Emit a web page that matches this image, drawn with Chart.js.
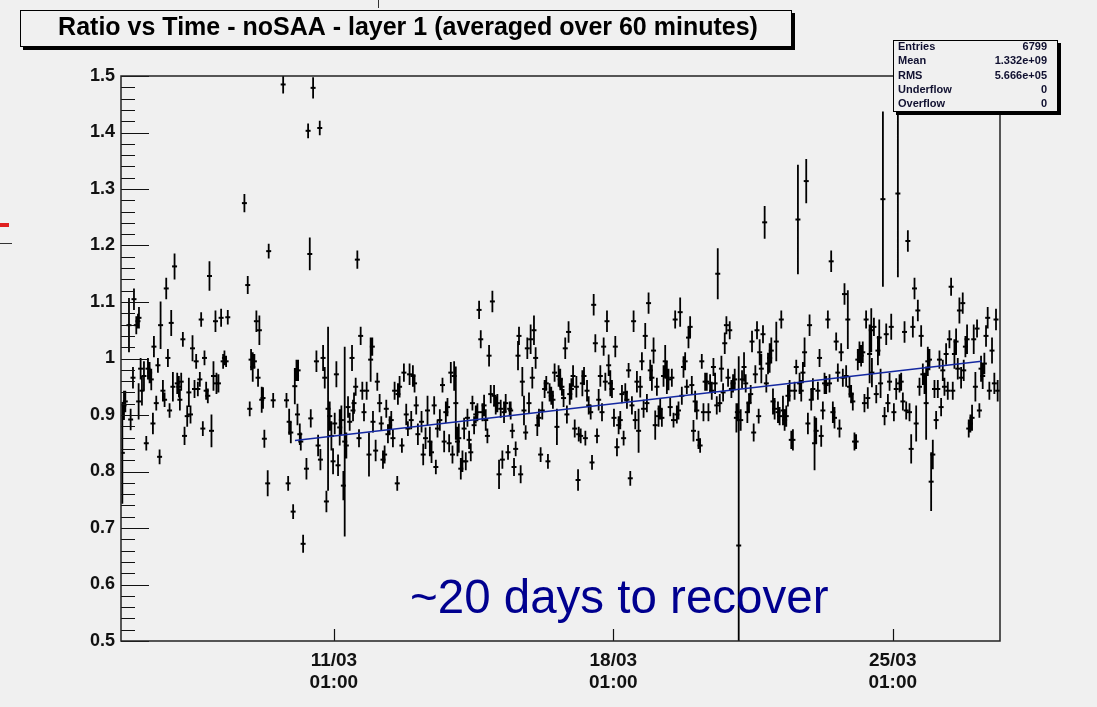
<!DOCTYPE html>
<html>
<head>
<meta charset="utf-8">
<script src="https://cdn.jsdelivr.net/npm/chart.js@4.4.0/dist/chart.umd.min.js"></script>
<style>
html,body{margin:0;padding:0;background:#f0f0f0;}
canvas{display:block;}
</style>
</head>
<body>
<canvas id="c" width="1097" height="707"></canvas>
<script>
// ---- DATA (hours since 05/03 00:00, ratio, error) ----
const hours = [
17.8,18.8,19.6,21.8,22.8,24.2,24.8,26.2,27.2,27.8,27.6,28.8,29.6,30.8,32.2,33.2,34.2,35.2,36.2,36.8,
38.2,39.2,40.2,40.8,42.2,43.2,44.2,45.2,46.2,47.2,48.2,49.2,50.8,51.8,52.4,53.2,54.2,55.2,56.8,57.8,
58.8,60.0,61.2,62.2,63.2,64.4,65.2,66.2,67.2,68.2,69.2,70.2,71.4,72.6,73.8,74.4,75.6,77.2,78.4,79.2,
80.2,81.2,91.2,93.2,94.4,95.2,96.2,97.2,98.4,99.4,100.2,101.6,102.4,103.2,105.2,105.8,
114.5,132.5,129.5,136.5,130.5,159.1,108.5,116.5,117.5,118.1,119.1,120.5,121.5,122.5,123.1,123.5,124.5,125.1,126.5,128.5,
131.1,134.5,135.5,136.9,138.5,139.5,140.5,141.5,142.5,143.5,144.5,145.5,146.5,147.5,148.5,149.5,150.7,151.5,152.5,153.5,
154.5,155.9,156.5,157.1,158.1,160.1,161.1,162.1,163.1,164.7,166.1,167.1,168.1,168.5,170.1,171.1,172.5,173.5,174.5,175.5,
176.5,177.5,178.5,179.5,180.5,181.5,183.1,183.5,184.5,185.9,187.1,188.5,189.5,190.5,191.5,192.5,193.5,194.5,195.5,
197.7,198.7,200.1,201.3,202.7,203.7,205.3,206.3,207.3,208.7,210.3,211.3,212.3,213.3,214.3,215.3,216.3,217.3,218.3,219.3,
220.1,221.3,222.3,223.3,224.3,225.3,226.3,227.3,228.3,229.3,230.3,231.3,232.3,233.3,234.3,235.3,236.3,237.3,238.3,239.3,
240.3,241.3,242.3,243.3,244.3,245.3,246.3,247.3,248.3,249.7,250.7,251.3,252.3,253.3,254.3,255.7,256.3,257.3,258.3,259.3,
260.3,261.3,262.3,263.3,264.3,265.3,266.3,267.3,268.3,269.3,270.3,271.7,272.7,273.7,274.7,275.7,276.7,277.7,279.1,280.1,
281.1,282.1,283.1,284.1,285.1,286.1,
286.8,287.8,288.8,289.8,290.8,291.8,292.2,293.4,294.4,295.4,296.2,297.2,298.2,299.4,300.2,301.2,302.2,303.2,304.2,305.2,
306.2,307.2,308.2,309.2,310.2,311.2,312.2,313.4,314.2,315.2,316.2,317.2,318.2,319.2,320.2,321.2,322.2,323.2,324.2,325.2,
326.2,327.2,328.2,329.2,330.2,331.2,332.2,333.2,334.2,335.2,336.2,337.2,338.2,339.2,340.2,341.2,342.2,343.2,344.2,345.2,
346.2,347.2,348.2,349.2,350.2,351.2,352.2,353.2,354.2,355.2,356.2,357.2,358.2,359.2,360.2,361.2,362.2,363.2,364.2,365.2,
366.2,367.2,368.2,369.2,370.2,371.2,372.2,373.2,374.2,375.2,375.8,
377,378,379,380,381,382,383,384,385,386,387,387.6,388.4,389.6,390.4,391.6,392.6,393.6,394.6,395.6,
396.4,397.4,398.4,399.4,400.4,401,402,403,404,405,406,407,408,409,410,411,412,413,414,415,
416,417,418,419,420,421,422,423,424,425,426,427,428,429,430,431,432,433,434,435,
436,437,438,439,440,441,442,443,444,445,446,447,448,449,450,451,452,453,454,455,
456,457,458,459,460,461,462,463,464,465,466,
467.1,468.1,468.5,469.7,471.1,472.1,472.9,473.7,475.1,476.1,477.1,478.1,479.1,480.1,481.7,483.1,484.1,485.1,486.1,487.1,
488.1,489.1,490.1,491.1,492.1,493.1,494.1,495.1,496.1,497.1,498.1,499.1,500.1,501.1,502.1,503.1,504.1,505.1,506.1,507.1,
508.1,509.1,510.1,511.1,512.1,513.1,514.1,515.1,516.1,517.1,518.1,519.1,520.1,521.1,522.1,523.1,523.7,524.7,525.7,526.7,
527.7,528.7,529.7,530.7,531.7,533.1,534.1,535.1,536.1,537.1,538.1,539.1,540.7,542.1,543.1,544.1
];
const ratio = [
0.833,0.917,0.924,1.059,0.892,0.966,1.105,1.059,1.066,1.072,0.924,0.982,0.943,0.969,0.850,0.982,0.975,0.963,0.885,1.021,
0.921,0.988,0.826,1.059,0.943,0.927,1.124,1.001,0.908,1.063,0.950,1.163,0.956,0.950,0.927,0.959,1.034,0.863,0.898,0.940,
0.901,1.018,0.946,0.995,0.946,0.963,1.069,0.876,1.001,0.943,0.934,1.146,0.872,0.969,1.066,0.956,0.956,1.072,0.995,1.001,
0.995,1.073,1.275,1.130,0.911,0.998,0.985,0.995,1.066,0.966,1.050,0.927,0.930,0.858,0.779,1.190,
1.485,1.479,1.403,1.408,1.185,1.175,0.926,0.926,0.779,0.888,0.869,0.729,0.951,0.979,0.901,0.979,0.866,0.853,0.672,0.805,
0.894,0.995,0.846,0.821,1.001,0.966,0.747,0.911,0.898,0.863,0.818,0.885,0.972,0.811,0.878,0.891,0.775,0.853,0.846,0.914,
0.888,1.001,0.908,0.921,0.950,0.859,1.040,0.943,0.905,0.943,0.830,0.998,1.021,0.888,0.837,0.959,0.921,0.885,0.821,0.830,
0.911,0.866,0.882,0.891,0.859,0.943,0.779,0.937,0.950,0.846,0.975,0.901,0.876,0.972,0.891,0.969,0.956,0.917,0.866,
0.888,0.830,0.859,0.908,0.853,0.834,0.917,0.808,0.876,0.891,0.953,0.853,0.905,0.914,0.850,0.975,0.830,0.969,0.921,0.853,
0.859,0.805,0.818,0.876,0.818,0.895,0.856,0.834,0.921,0.882,0.901,0.905,1.086,1.034,0.905,0.917,0.891,0.863,1.005,0.937,
1.101,0.934,0.917,0.921,0.795,0.911,0.821,0.905,0.921,0.834,0.911,0.908,0.872,0.808,0.840,1.005,1.040,0.795,0.959,0.908,
0.869,1.018,0.921,1.034,0.966,1.050,1.001,0.882,0.895,0.830,0.908,0.946,0.956,0.818,0.940,0.934,0.927,0.975,0.879,0.969,
0.963,0.950,0.930,1.018,0.901,1.047,
0.937,0.946,0.969,0.876,0.950,0.785,0.866,0.863,0.956,0.969,0.859,0.943,0.917,0.905,0.816,1.095,1.027,0.863,0.927,0.969,
0.905,1.021,0.959,1.066,0.988,0.956,0.946,0.895,1.021,0.843,0.882,0.891,0.937,0.859,0.940,0.927,0.979,0.788,0.917,1.066,
0.891,0.959,0.872,0.950,0.995,0.911,1.040,0.921,1.098,0.979,0.966,1.014,0.882,0.950,0.898,0.911,0.895,0.969,0.995,0.966,
0.963,0.914,0.966,0.891,1.069,0.901,0.908,1.082,0.934,0.985,0.995,0.950,1.037,1.056,0.953,0.872,0.924,0.908,0.856,0.846,
0.995,0.905,0.959,0.959,0.905,0.956,0.943,0.985,0.956,0.917,1.150,
0.921,0.982,0.940,1.027,1.059,0.966,1.050,0.946,0.956,0.963,0.895,0.905,0.669,0.891,0.963,0.985,0.956,0.905,0.921,0.937,
1.030,0.869,0.972,1.050,0.898,1.011,0.982,1.043,1.241,0.956,0.991,1.001,1.014,0.924,0.911,1.030,0.905,0.898,1.069,0.908,
0.891,0.898,0.934,0.943,0.856,0.856,0.943,0.985,1.246,0.956,0.943,0.975,1.011,1.314,0.885,1.059,0.927,0.946,0.850,0.872,
0.943,1.001,0.863,0.908,0.956,0.953,1.069,0.956,1.172,0.905,0.895,1.030,0.975,0.876,1.011,0.966,1.114,0.969,1.069,0.950,
0.937,0.924,0.853,0.853,0.998,1.011,1.005,1.011,0.921,1.069,0.930,
1.008,1.050,0.975,1.056,0.937,1.014,1.037,0.956,1.282,0.898,1.043,0.921,0.959,1.056,0.905,0.946,1.292,0.956,0.959,0.924,
1.047,0.908,1.208,0.905,0.840,1.056,1.124,0.885,1.085,0.950,1.040,0.972,0.956,0.921,0.995,0.998,0.782,0.830,0.946,0.891,
0.946,0.998,0.914,0.979,0.950,1.008,0.943,1.034,1.127,0.943,1.008,1.030,0.982,1.085,0.966,1.098,0.979,1.021,1.034,0.876,
0.885,0.895,1.034,0.950,1.053,0.908,0.982,0.969,0.991,1.040,1.072,0.943,1.014,0.956,1.069,0.943
];
const ratioErr = [
0.090,0.026,0.019,0.048,0.019,0.019,0.019,0.016,0.013,0.019,0.032,0.019,0.026,0.026,0.013,0.019,0.019,0.019,0.019,0.019,
0.013,0.013,0.013,0.042,0.019,0.013,0.019,0.016,0.013,0.023,0.026,0.023,0.019,0.019,0.019,0.016,0.013,0.016,0.019,0.026,
0.016,0.023,0.016,0.013,0.013,0.013,0.013,0.013,0.013,0.016,0.013,0.026,0.029,0.026,0.019,0.019,0.016,0.016,0.013,0.013,
0.010,0.013,0.016,0.016,0.013,0.019,0.026,0.013,0.019,0.016,0.026,0.023,0.019,0.016,0.023,0.013,
0.016,0.019,0.013,0.013,0.029,0.016,0.013,0.013,0.013,0.023,0.019,0.013,0.032,0.019,0.019,0.019,0.019,0.016,0.016,0.019,
0.016,0.019,0.019,0.019,0.023,0.019,0.019,0.145,0.026,0.026,0.023,0.019,0.023,0.019,0.032,0.026,0.026,0.168,0.023,0.019,
0.016,0.023,0.019,0.019,0.016,0.016,0.016,0.016,0.016,0.016,0.039,0.039,0.016,0.019,0.019,0.016,0.016,0.013,0.016,0.016,
0.016,0.016,0.016,0.016,0.016,0.016,0.013,0.019,0.019,0.013,0.016,0.019,0.013,0.019,0.016,0.019,0.016,0.016,0.019,
0.019,0.019,0.019,0.026,0.026,0.019,0.016,0.013,0.016,0.019,0.013,0.019,0.019,0.016,0.016,0.019,0.016,0.026,0.065,0.026,
0.026,0.019,0.019,0.019,0.016,0.016,0.016,0.016,0.013,0.016,0.016,0.016,0.016,0.016,0.016,0.019,0.019,0.013,0.019,0.016,
0.019,0.019,0.016,0.016,0.026,0.016,0.016,0.019,0.016,0.013,0.013,0.016,0.013,0.016,0.013,0.026,0.016,0.016,0.026,0.026,
0.013,0.019,0.019,0.026,0.019,0.026,0.019,0.019,0.016,0.013,0.016,0.016,0.013,0.013,0.016,0.016,0.016,0.016,0.032,0.019,
0.019,0.016,0.016,0.019,0.016,0.019,
0.019,0.019,0.019,0.016,0.019,0.019,0.013,0.013,0.023,0.016,0.013,0.019,0.016,0.013,0.013,0.019,0.016,0.013,0.019,0.019,
0.016,0.016,0.016,0.019,0.019,0.023,0.016,0.016,0.019,0.016,0.016,0.016,0.016,0.013,0.016,0.016,0.013,0.013,0.016,0.019,
0.016,0.019,0.039,0.019,0.016,0.016,0.023,0.016,0.019,0.019,0.023,0.023,0.026,0.016,0.019,0.019,0.016,0.019,0.029,0.029,
0.019,0.016,0.016,0.013,0.016,0.016,0.016,0.026,0.016,0.019,0.016,0.013,0.019,0.019,0.016,0.019,0.019,0.016,0.016,0.013,
0.013,0.016,0.016,0.016,0.016,0.016,0.016,0.016,0.019,0.016,0.045,
0.016,0.023,0.016,0.019,0.016,0.016,0.016,0.016,0.016,0.019,0.026,0.016,0.335,0.019,0.016,0.026,0.016,0.019,0.016,0.016,
0.019,0.016,0.016,0.016,0.013,0.023,0.026,0.016,0.029,0.016,0.019,0.026,0.023,0.023,0.019,0.035,0.019,0.016,0.016,0.026,
0.019,0.019,0.019,0.019,0.016,0.019,0.016,0.013,0.097,0.019,0.019,0.019,0.026,0.039,0.019,0.019,0.019,0.019,0.048,0.023,
0.016,0.016,0.019,0.016,0.019,0.016,0.016,0.016,0.019,0.019,0.019,0.016,0.016,0.016,0.016,0.016,0.019,0.019,0.052,0.019,
0.016,0.016,0.016,0.013,0.019,0.019,0.019,0.019,0.016,0.016,0.019,
0.052,0.039,0.026,0.016,0.016,0.026,0.032,0.026,0.155,0.016,0.019,0.016,0.016,0.023,0.016,0.019,0.148,0.016,0.016,0.016,
0.019,0.016,0.019,0.016,0.026,0.019,0.019,0.032,0.019,0.016,0.019,0.019,0.019,0.065,0.026,0.019,0.052,0.026,0.016,0.016,
0.016,0.016,0.016,0.019,0.016,0.019,0.016,0.016,0.016,0.016,0.026,0.023,0.019,0.023,0.019,0.019,0.019,0.019,0.026,0.016,
0.016,0.023,0.026,0.026,0.016,0.013,0.023,0.023,0.019,0.019,0.019,0.016,0.023,0.019,0.019,0.019
];
// linear fit line endpoints
const fitHours = [121.6, 534.4];
const fitRatio = [0.855, 0.995];
// axis ticks
const xTickHours = [145, 313, 481];
const xTickLabels = [["11/03","01:00"],["18/03","01:00"],["25/03","01:00"]];
const xRange = [17, 545.5];
const yRange = [0.5, 1.5];
const statsLabels = ["Entries","Mean","RMS","Underflow","Overflow"];
const statsValues = ["6799","1.332e+09","5.666e+05","0","0"];
const titleText = "Ratio vs Time - noSAA - layer 1 (averaged over 60 minutes)";
const noteText = "~20 days to recover";

const points = hours.map((h,i)=>({x:h, y:ratio[i], e:ratioErr[i]}));
const fitPts = fitHours.map((h,i)=>({x:h, y:fitRatio[i]}));

const errorBars = {
  id:'errorBars',
  beforeDatasetsDraw(chart){
    const {ctx, chartArea:a, scales:{y}} = chart;
    const meta = chart.getDatasetMeta(0);
    ctx.save();
    ctx.beginPath(); ctx.rect(a.left, a.top, a.right-a.left, a.bottom-a.top); ctx.clip();
    ctx.strokeStyle = '#000'; ctx.lineWidth = 1.8;
    ctx.beginPath();
    meta.data.forEach((el,i)=>{
      const p = points[i];
      const y1 = y.getPixelForValue(p.y - p.e), y2 = y.getPixelForValue(p.y + p.e);
      ctx.moveTo(el.x, y1); ctx.lineTo(el.x, y2);
    });
    ctx.stroke();
    ctx.restore();
  }
};

const frame = {
  id:'frame',
  beforeDraw(chart){
    const {ctx, width, height} = chart;
    ctx.save(); ctx.fillStyle = '#f0f0f0'; ctx.fillRect(0,0,width,height); ctx.restore();
  },
  afterDraw(chart){
    const {ctx, chartArea:a, scales:{x,y}} = chart;
    ctx.save();
    // y ticks inside
    ctx.strokeStyle = '#111'; ctx.lineWidth = 1.2;
    ctx.beginPath();
    for (let k=0;k<=50;k++){
      const v = yRange[0] + k*0.02;
      const py = Math.round(y.getPixelForValue(v))+0.5;
      const len = (k%5===0) ? 28 : 14;
      ctx.moveTo(a.left, py); ctx.lineTo(a.left+len, py);
    }
    xTickHours.forEach(h=>{
      const px = Math.round(x.getPixelForValue(h))+0.5;
      ctx.moveTo(px, a.bottom); ctx.lineTo(px, a.bottom-12);
    });
    ctx.stroke();
    // frame
    ctx.strokeStyle = '#222'; ctx.lineWidth = 1.5;
    ctx.strokeRect(a.left, a.top, a.right-a.left, a.bottom-a.top);
    // note text
    ctx.fillStyle = '#00008f';
    ctx.font = '47.5px "Liberation Sans", Arial, sans-serif';
    ctx.textBaseline = 'alphabetic'; ctx.textAlign = 'left';
    ctx.fillText(noteText, 410, 613);
    // title box
    ctx.fillStyle = '#000'; ctx.fillRect(23, 13, 772, 37);
    ctx.fillStyle = '#f0f0f0'; ctx.fillRect(20, 10, 772, 37);
    ctx.strokeStyle = '#000'; ctx.lineWidth = 1; ctx.strokeRect(20.5, 10.5, 771, 36);
    ctx.fillStyle = '#000';
    ctx.font = 'bold 25px "Liberation Sans", Arial, sans-serif';
    ctx.textAlign = 'center'; ctx.textBaseline = 'middle';
    ctx.fillText(titleText, 408, 28, 730);
    // stats box
    ctx.fillStyle = '#000'; ctx.fillRect(896, 43, 165, 72);
    ctx.fillStyle = '#f0f0f0'; ctx.fillRect(893, 40, 165, 72);
    ctx.strokeStyle = '#000'; ctx.strokeRect(893.5, 40.5, 164, 71);
    ctx.font = 'bold 11px "Liberation Sans", Arial, sans-serif';
    ctx.textBaseline = 'middle';
    statsLabels.forEach((l,i)=>{
      const yy = 47 + i*14.3;
      ctx.fillStyle = '#101030';
      ctx.textAlign = 'left'; ctx.fillText(l, 898, yy);
      ctx.textAlign = 'right'; ctx.fillText(statsValues[i], 1047, yy);
    });
    // small slide artefacts
    ctx.strokeStyle = '#333'; ctx.lineWidth = 1;
    ctx.beginPath(); ctx.moveTo(378.5,0); ctx.lineTo(378.5,8); ctx.stroke();
    ctx.beginPath(); ctx.moveTo(0,243.5); ctx.lineTo(12,243.5); ctx.stroke();
    ctx.fillStyle = '#e02020'; ctx.fillRect(0,223,9,4);
    ctx.restore();
  }
};

new Chart(document.getElementById('c'), {
  type:'scatter',
  data:{
    datasets:[
      {data:points, pointStyle:'line', pointRadius:2.5, pointHoverRadius:2.5,
       borderColor:'#000', backgroundColor:'#000', pointBorderWidth:2, borderWidth:2, order:2},
      {type:'line', data:fitPts, borderColor:'#1428a0', borderWidth:1.6, pointRadius:0, fill:false, order:1}
    ]
  },
  options:{
    responsive:false, animation:false,
    events:[],
    layout:{padding:{left:0, top:76, right:97, bottom:0}},
    plugins:{legend:{display:false}, tooltip:{enabled:false}},
    scales:{
      x:{type:'linear', min:xRange[0], max:xRange[1],
         afterBuildTicks:(s)=>{ s.ticks = xTickHours.map(v=>({value:v})); },
         afterFit:(s)=>{ s.height = 66; },
         grid:{display:false, drawTicks:false}, border:{display:false},
         ticks:{autoSkip:false, maxRotation:0, padding:9, color:'#111',
           font:{family:'"Liberation Sans Narrow", "Liberation Sans", Arial, sans-serif', size:19, weight:'bold', lineHeight:1.15},
           callback:(v)=>{ const i = xTickHours.indexOf(v); return i>=0 ? xTickLabels[i] : ''; }}
      },
      y:{min:yRange[0], max:yRange[1],
         afterFit:(s)=>{ s.width = 121; },
         grid:{display:false, drawTicks:false}, border:{display:false},
         ticks:{stepSize:0.1, autoSkip:false, padding:6, color:'#111',
           font:{family:'"Liberation Sans", Arial, sans-serif', size:18, weight:'bold'},
           callback:(v)=>String(Number(v.toFixed(1)))}
      }
    }
  },
  plugins:[errorBars, frame]
});
</script>
</body>
</html>
